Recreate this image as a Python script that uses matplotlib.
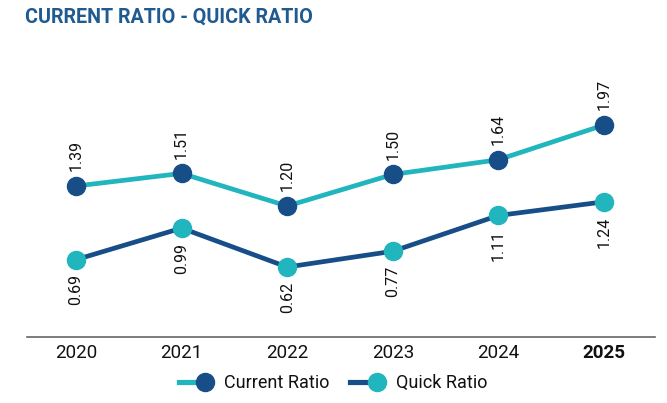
import matplotlib
matplotlib.use("Agg")
import matplotlib.pyplot as plt
from matplotlib.legend_handler import HandlerBase
from matplotlib.lines import Line2D

years = ["2020", "2021", "2022", "2023", "2024", "2025"]
current_ratio = [1.39, 1.51, 1.20, 1.50, 1.64, 1.97]
quick_ratio = [0.69, 0.99, 0.62, 0.77, 1.11, 1.24]

DARK = "#174e87"
TEAL = "#21b5be"
plt.rcParams['font.family'] = ['Roboto', 'DejaVu Sans']

fig = plt.figure(figsize=(6.67, 4.03), dpi=100)
ax = fig.add_axes([27/667, (403-337)/403, (655-27)/667, (337-40)/403])
x = list(range(len(years)))

lc, = ax.plot(x, current_ratio, color=TEAL, lw=3.4, marker='o', ms=13,
              mfc=DARK, mec=DARK, label="Current Ratio", zorder=3)
lq, = ax.plot(x, quick_ratio, color=DARK, lw=3.4, marker='o', ms=13,
              mfc=TEAL, mec=TEAL, label="Quick Ratio", zorder=3)

for xi, v in zip(x, current_ratio):
    ax.annotate(f"{v:.2f}", (xi, v), xytext=(0, 10.5), textcoords='offset points',
                rotation=90, ha='center', va='bottom', fontsize=11.5, color='#111111')
for xi, v in zip(x, quick_ratio):
    ax.annotate(f"{v:.2f}", (xi, v), xytext=(0, -10.5), textcoords='offset points',
                rotation=90, ha='center', va='top', fontsize=11.5, color='#111111')

ax.set_xlim(-0.464, 5.483)
ax.set_ylim(-0.045, 2.778)
ax.set_xticks(x)
ax.set_xticklabels(years, fontsize=13.5, color='#111111')
ax.get_xticklabels()[-1].set_fontweight('bold')
ax.tick_params(axis='x', length=0, pad=5)
ax.set_yticks([])
for s in ['top', 'left', 'right']:
    ax.spines[s].set_visible(False)
ax.spines['bottom'].set_color('#666666')
ax.spines['bottom'].set_linewidth(1.2)

fig.text(25/667, 1-17/403, "CURRENT RATIO - QUICK RATIO", fontsize=14.2,
         fontweight='bold', color='#1f5a91', ha='left', va='center')


class RightMarker(HandlerBase):
    def create_artists(self, legend, orig_handle, xdescent, ydescent, width,
                       height, fontsize, trans):
        y = height / 2 - ydescent
        x0 = -xdescent
        x1 = -xdescent + width
        line = Line2D([x0, x1 - 6], [y, y], color=orig_handle.get_color(),
                      lw=orig_handle.get_linewidth() * 1.1, transform=trans)
        mk = Line2D([x1 - 6.5], [y], ls='none', marker='o',
                    ms=orig_handle.get_markersize(),
                    mfc=orig_handle.get_markerfacecolor(),
                    mec=orig_handle.get_markeredgecolor(), transform=trans)
        return [line, mk]


leg = fig.legend(handles=[lc, lq], loc='center', bbox_to_anchor=(333/667, 1-383/403),
                 ncol=2, frameon=False, fontsize=13, handlelength=1.95,
                 handletextpad=0.55, columnspacing=1.15,
                 handler_map={lc: RightMarker(), lq: RightMarker()})
for t in leg.get_texts():
    t.set_color('#111111')

fig.savefig("out.png", dpi=100)
